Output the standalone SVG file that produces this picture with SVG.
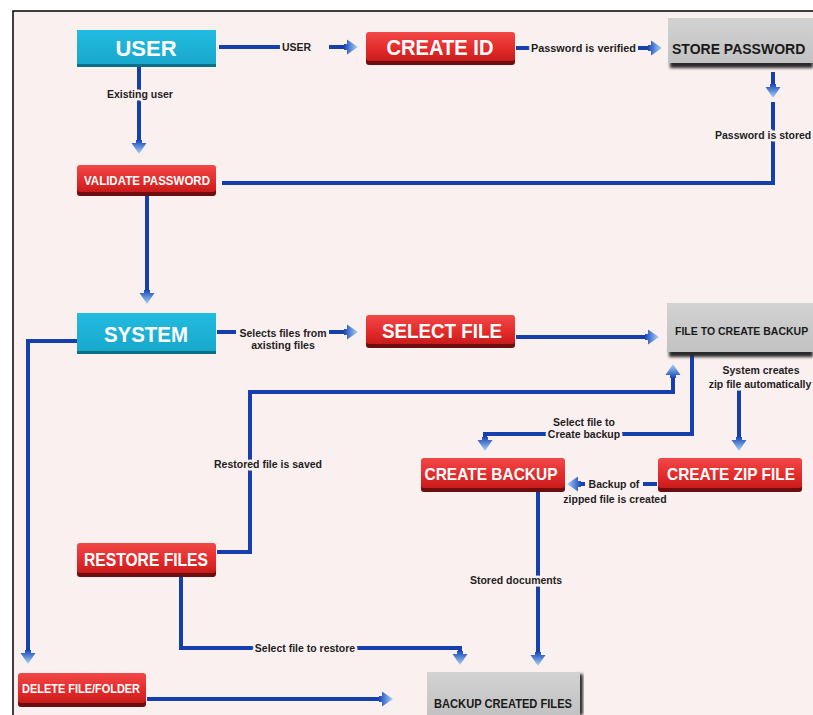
<svg xmlns="http://www.w3.org/2000/svg" width="813" height="715" viewBox="0 0 813 715">
<defs>
<style>
.lbl{font-family:"Liberation Sans",Arial,sans-serif;font-weight:bold;font-size:10.5px;fill:#1e1e1e;stroke:#fbf0f0;stroke-width:5px;paint-order:stroke;stroke-linejoin:round}
.conn{fill:none;stroke:#163fae;stroke-width:4;stroke-linejoin:miter}
.arr{marker-end:url(#ah)}
.wt{font-family:"Liberation Sans",Arial,sans-serif;font-weight:bold;fill:#ffffff}
.bt{font-family:"Liberation Sans",Arial,sans-serif;font-weight:bold;fill:#1a1a1a}
.red{fill:url(#rg)}
.redsh{fill:#6e0d0d}
.cyan{fill:url(#cg)}
.cyansh{fill:#0c6f88}
.gray{fill:url(#gg)}
.graysh{fill:#2a2a2a;filter:url(#bl)}
</style>
<linearGradient id="ag" x1="0" y1="0" x2="1" y2="0">
<stop offset="0" stop-color="#1a47b8"/>
<stop offset="1" stop-color="#a8d6f7"/>
</linearGradient>
<linearGradient id="rg" x1="0" y1="0" x2="0" y2="1">
<stop offset="0" stop-color="#f24848"/>
<stop offset="0.6" stop-color="#e22a2a"/>
<stop offset="1" stop-color="#c81c1c"/>
</linearGradient>
<linearGradient id="cg" x1="0" y1="0" x2="0" y2="1">
<stop offset="0" stop-color="#22bce0"/>
<stop offset="1" stop-color="#18a8cc"/>
</linearGradient>
<linearGradient id="gg" x1="0" y1="0" x2="0" y2="1">
<stop offset="0" stop-color="#d2d2d2"/>
<stop offset="1" stop-color="#c2c2c2"/>
</linearGradient>
<filter id="bl" x="-10%" y="-50%" width="120%" height="200%">
<feGaussianBlur stdDeviation="1.5"/>
</filter>
<marker id="ah" viewBox="0 -8 14 16" refX="0" refY="0" markerWidth="14" markerHeight="16" markerUnits="userSpaceOnUse" orient="auto">
<path d="M0,-3 L3,-3 L3,-7.5 L14,0 L3,7.5 L3,3 L0,3 Z" fill="url(#ag)"/>
</marker>
</defs>

<rect x="0" y="0" width="813" height="715" fill="#ffffff"/>
<rect x="13" y="11" width="800" height="704" fill="#fbf0f0"/>
<path d="M13,715 V11 H813" fill="none" stroke="#000" stroke-width="1.5"/>

<g id="connectors">
<!-- USER -> CREATE ID -->
<path class="conn" d="M219,47 H280"/>
<text class="lbl" x="282" y="51" font-size="12px">USER</text>
<path class="conn arr" d="M329,47 H344"/>
<!-- CREATE ID -> STORE PASSWORD -->
<path class="conn" d="M516,48 H531"/>
<text class="lbl" x="531" y="52" textLength="105" lengthAdjust="spacingAndGlyphs">Password is verified</text>
<path class="conn arr" d="M638,48 H648"/>
<!-- STORE PASSWORD -> VALIDATE PASSWORD -->
<path class="conn arr" d="M773,72 V84"/>
<path class="conn" d="M773,102 V183 H222"/>
<text class="lbl" x="715" y="139" font-size="10px">Password is stored</text>
<!-- USER -> VALIDATE -->
<path class="conn arr" d="M139,66 V140"/>
<text class="lbl" x="140" y="98" text-anchor="middle">Existing user</text>
<!-- VALIDATE -> SYSTEM -->
<path class="conn arr" d="M147,194 V290"/>
<!-- SYSTEM -> SELECT FILE -->
<path class="conn" d="M217,332 H236"/>
<text class="lbl" x="283" y="337" text-anchor="middle">Selects files from</text>
<text class="lbl" x="283" y="349" text-anchor="middle">axisting files</text>
<path class="conn arr" d="M329,332 H344"/>
<!-- SELECT FILE -> FILE TO CREATE BACKUP -->
<path class="conn arr" d="M516,337 H645"/>
<!-- RESTORE -> FILE TO CREATE BACKUP -->
<path class="conn arr" d="M217,552 H250 V392 H673 V378"/>
<text class="lbl" x="268" y="468" text-anchor="middle">Restored file is saved</text>
<!-- FILE TO CREATE BACKUP -> CREATE BACKUP -->
<path class="conn arr" d="M692,354 V434 H485 V437"/>
<text class="lbl" x="584" y="426" text-anchor="middle">Select file to</text>
<text class="lbl" x="584" y="438" text-anchor="middle">Create backup</text>
<!-- FILE TO CREATE BACKUP -> CREATE ZIP FILE -->
<path class="conn arr" d="M739,389 V437"/>
<text class="lbl" x="761" y="374" text-anchor="middle">System creates</text>
<text class="lbl" x="760" y="388" font-size="10px" text-anchor="middle">zip file automatically</text>
<!-- CREATE ZIP FILE -> CREATE BACKUP -->
<path class="conn" d="M657,484 H643"/>
<text class="lbl" x="614" y="488" text-anchor="middle">Backup of</text>
<text class="lbl" x="615" y="503" text-anchor="middle">zipped file is created</text>
<path class="conn arr" d="M585,484 H581"/>
<!-- CREATE BACKUP -> BACKUP CREATED FILES -->
<path class="conn arr" d="M538,491 V652"/>
<text class="lbl" x="516" y="584" text-anchor="middle">Stored documents</text>
<!-- RESTORE -> BACKUP CREATED FILES -->
<path class="conn arr" d="M181,576 V648 H460 V651"/>
<text class="lbl" x="305" y="652" text-anchor="middle">Select file to restore</text>
<!-- SYSTEM -> DELETE -->
<path class="conn arr" d="M77,341 H28 V650"/>
<!-- DELETE -> BACKUP CREATED FILES -->
<path class="conn arr" d="M147,699 H379"/>
</g>

<g id="user">
<rect class="cyansh" x="77" y="32" width="139" height="35"/>
<rect class="cyan" x="77" y="30" width="139" height="34"/>
<text class="wt" x="146" y="56" font-size="22" text-anchor="middle">USER</text>
</g>
<g id="create-id">
<rect class="redsh" x="366" y="35" width="149" height="30" rx="3"/>
<rect class="red" x="366" y="32" width="149" height="29" rx="3"/>
<text class="wt" x="440" y="55" font-size="22" text-anchor="middle" textLength="107" lengthAdjust="spacingAndGlyphs">CREATE ID</text>
</g>
<g id="store-password">
<rect class="graysh" x="670" y="60" width="143" height="8"/>
<rect class="gray" x="668" y="18" width="145" height="45"/>
<text class="bt" x="672" y="54" font-size="14">STORE PASSWORD</text>
</g>
<g id="validate-password">
<rect class="redsh" x="77" y="168" width="139" height="28" rx="3"/>
<rect class="red" x="77" y="165" width="139" height="27" rx="3"/>
<text class="wt" x="147" y="185" font-size="12" text-anchor="middle" textLength="126" lengthAdjust="spacingAndGlyphs">VALIDATE PASSWORD</text>
</g>
<g id="system">
<rect class="cyansh" x="77" y="315" width="139" height="39"/>
<rect class="cyan" x="77" y="313" width="139" height="38"/>
<text class="wt" x="146" y="342" font-size="22" text-anchor="middle" textLength="84" lengthAdjust="spacingAndGlyphs">SYSTEM</text>
</g>
<g id="select-file">
<rect class="redsh" x="366" y="318" width="149" height="30" rx="3"/>
<rect class="red" x="366" y="315" width="149" height="29" rx="3"/>
<text class="wt" x="442" y="338" font-size="21" text-anchor="middle" textLength="120" lengthAdjust="spacingAndGlyphs">SELECT FILE</text>
</g>
<g id="file-to-create-backup">
<rect class="graysh" x="669" y="349" width="144" height="8"/>
<rect class="gray" x="667" y="303" width="146" height="49"/>
<text class="bt" x="675" y="335" font-size="10.5">FILE TO CREATE BACKUP</text>
</g>
<g id="create-backup">
<rect class="redsh" x="421" y="461" width="144" height="31" rx="3"/>
<rect class="red" x="421" y="458" width="144" height="30" rx="3"/>
<text class="wt" x="491" y="480" font-size="17" text-anchor="middle" textLength="133" lengthAdjust="spacingAndGlyphs">CREATE BACKUP</text>
</g>
<g id="create-zip-file">
<rect class="redsh" x="658" y="461" width="144" height="31" rx="3"/>
<rect class="red" x="658" y="458" width="144" height="30" rx="3"/>
<text class="wt" x="731" y="480" font-size="17" text-anchor="middle" textLength="128" lengthAdjust="spacingAndGlyphs">CREATE ZIP FILE</text>
</g>
<g id="restore-files">
<rect class="redsh" x="77" y="546" width="139" height="31" rx="3"/>
<rect class="red" x="77" y="543" width="139" height="30" rx="3"/>
<text class="wt" x="146" y="566" font-size="18" text-anchor="middle" textLength="124" lengthAdjust="spacingAndGlyphs">RESTORE FILES</text>
</g>
<g id="delete-file-folder">
<rect class="redsh" x="18" y="676" width="128" height="31" rx="3"/>
<rect class="red" x="18" y="673" width="128" height="30" rx="3"/>
<text class="wt" x="81" y="693" font-size="12" text-anchor="middle" textLength="118" lengthAdjust="spacingAndGlyphs">DELETE FILE/FOLDER</text>
</g>
<g id="backup-created-files">
<rect class="graysh" x="577" y="674" width="6" height="41"/>
<rect class="gray" x="427" y="672" width="153" height="43"/>
<text class="bt" x="503" y="708" font-size="12.5" text-anchor="middle" textLength="138" lengthAdjust="spacingAndGlyphs">BACKUP CREATED FILES</text>
</g>
</svg>
